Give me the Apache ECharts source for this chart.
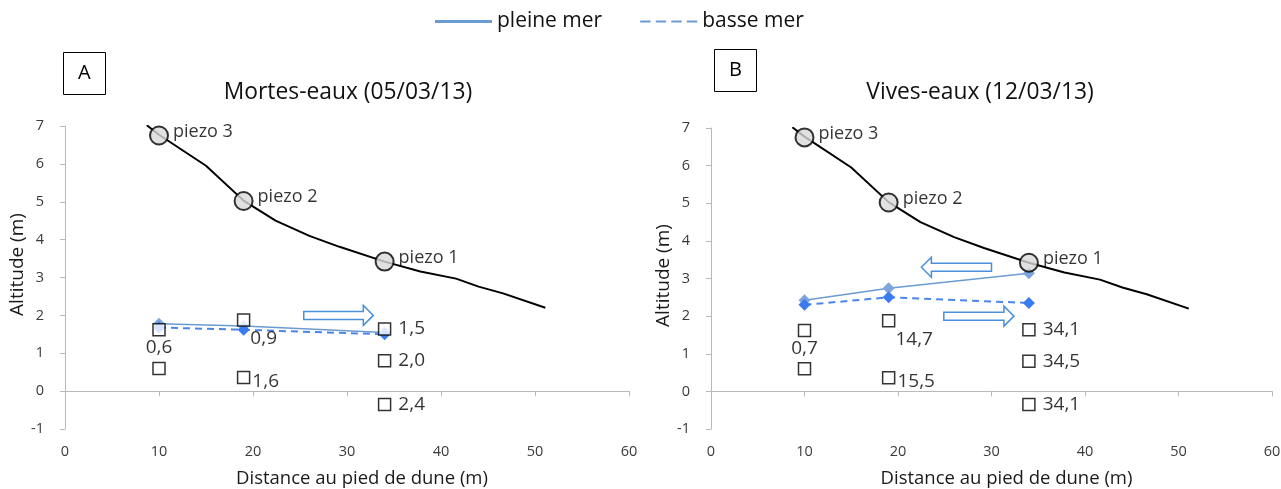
<!DOCTYPE html>
<html>
<head>
<meta charset="utf-8">
<script src="https://cdn.jsdelivr.net/npm/echarts@6/dist/echarts.min.js"></script>
<style>
html,body{margin:0;padding:0;background:#fff;}
#chart{width:1281px;height:489px;}
</style>
</head>
<body>
<div id="chart"></div>
<script>
// ---------- DATA ----------
const profile = [[8.7,7.02],[10,6.77],[15,5.95],[19,5.03],[22.4,4.5],[26,4.1],[29.2,3.81],[34,3.42],[37.8,3.16],[41.6,2.97],[44,2.76],[46.6,2.58],[51.1,2.2]];
const piezoX = [10, 19, 34];
const piezoY = [6.75, 5.02, 3.42];
const piezoNames = ['piezo 3', 'piezo 2', 'piezo 1'];

const tideX = [10, 19, 34];
const pleineA = [1.78, 1.72, 1.55];
const basseA  = [1.68, 1.62, 1.50];
const pleineB = [2.42, 2.74, 3.14];
const basseB  = [2.30, 2.50, 2.35];

const sensorX = [10, 10, 19, 19, 34, 34, 34];
const sensorY = [1.62, 0.60, 1.88, 0.36, 1.64, 0.80, -0.35];
const labelsA = ['0,6', '', '0,9', '1,6', '1,5', '2,0', '2,4'];
const labelsB = ['0,7', '', '14,7', '15,5', '34,1', '34,5', '34,1'];

// arrows: [x tail, x head, y]
const arrowsA = [[25.4, 32.8, 2.0]];
const arrowsB = [[30.0, 22.5, 3.3], [24.9, 32.4, 2.0]];

const panelTitles = ['Mortes-eaux (05/03/13)', 'Vives-eaux (12/03/13)'];
const panelLetters = ['A', 'B'];
const xName = 'Distance au pied de dune (m)';
const yName = 'Altitude (m)';
const seriesNames = ['pleine mer', 'basse mer'];

// ---------- STYLE ----------
const FONT = 'Open Sans';
const labelCfg = [
  {position: 'bottom', distance: 2},
  null,
  {position: 'right', distance: 0, offset: [0, 19]},
  {position: 'right', distance: 2, offset: [0, 4]},
  {position: 'right', distance: 7},
  {position: 'right', distance: 7},
  {position: 'right', distance: 7}
];
const yNameGap = [32, 31];
const yNamePad = [[0, 0, 0, 26], [0, 0, 0, 6]];

const chart = echarts.init(document.getElementById('chart'), null, {renderer: 'canvas'});

function axisX(gi) {
  return {
    type: 'value', gridIndex: gi, min: 0, max: 60, interval: 10,
    splitLine: {show: false},
    axisLine: {lineStyle: {color: '#b8b8b8', width: 1}},
    axisTick: {show: true, length: 5, lineStyle: {color: '#b8b8b8'}},
    axisLabel: {fontFamily: FONT, fontSize: 14.5, color: '#3a3a3a', margin: 15},
    name: xName, nameLocation: 'middle', nameGap: 40,
    nameTextStyle: {fontFamily: FONT, fontSize: 18.5, color: '#1a1a1a', padding: [0, 0, 0, 30]}
  };
}
function axisY(gi) {
  return {
    type: 'value', gridIndex: gi, min: -1, max: 7, interval: 1,
    splitLine: {show: false},
    axisLine: {show: true, lineStyle: {color: '#b8b8b8', width: 1}},
    axisTick: {show: true, length: 5, lineStyle: {color: '#b8b8b8'}},
    axisLabel: {fontFamily: FONT, fontSize: 14.5, color: '#3a3a3a', margin: 21},
    name: yName, nameLocation: 'middle', nameGap: yNameGap[gi],
    nameTextStyle: {fontFamily: FONT, fontSize: 19, color: '#1a1a1a', padding: yNamePad[gi]}
  };
}

function arrowRender(params, api) {
  const y = api.value(2);
  const p0 = api.coord([api.value(0), y]);
  const p1 = api.coord([api.value(1), y]);
  const dir = p1[0] > p0[0] ? 1 : -1;
  const hl = 10, sh = 4, hh = 10;
  const hx = p1[0] - dir * hl;
  const cy = p0[1];
  const pts = [
    [p0[0], cy - sh], [hx, cy - sh], [hx, cy - hh], [p1[0], cy],
    [hx, cy + hh], [hx, cy + sh], [p0[0], cy + sh]
  ];
  return {type: 'polygon', shape: {points: pts}, style: {fill: '#fff', stroke: '#4a8fdb', lineWidth: 1.5}};
}

function panelSeries(gi, pleine, basse, labels, arrows) {
  const s = [];
  s.push({
    type: 'line', xAxisIndex: gi, yAxisIndex: gi, data: profile, symbol: 'none',
    lineStyle: {color: '#000', width: 2}, z: 2, silent: true
  });
  s.push({
    name: seriesNames[0], type: 'line', xAxisIndex: gi, yAxisIndex: gi,
    data: tideX.map((x, i) => [x, pleine[i]]),
    symbol: 'diamond', symbolSize: 12, showSymbol: true,
    itemStyle: {color: '#7ea6dc'}, lineStyle: {color: '#6a9bd1', width: 1.5}, z: 3
  });
  s.push({
    name: seriesNames[1], type: 'line', xAxisIndex: gi, yAxisIndex: gi,
    data: tideX.map((x, i) => [x, basse[i]]),
    symbol: 'diamond', symbolSize: 12, showSymbol: true,
    itemStyle: {color: '#3a7bef'}, lineStyle: {color: '#4a85e8', width: 2, type: [7, 5]}, z: 3
  });
  s.push({
    type: 'scatter', xAxisIndex: gi, yAxisIndex: gi,
    data: sensorX.map((x, i) => {
      const d = {value: [x, sensorY[i]]};
      if (labels[i]) {
        d.label = Object.assign({show: true, formatter: labels[i], color: '#000', fontFamily: FONT, fontSize: 19}, labelCfg[i]);
      }
      return d;
    }),
    symbol: 'rect', symbolSize: 12,
    itemStyle: {color: '#fff', borderColor: '#000', borderWidth: 1.5},
    label: {show: false, fontFamily: FONT, fontSize: 19, color: '#000'},
    z: 5
  });
  s.push({
    type: 'scatter', xAxisIndex: gi, yAxisIndex: gi,
    data: piezoX.map((x, i) => ({value: [x, piezoY[i]], name: piezoNames[i]})),
    symbol: 'circle', symbolSize: 18,
    itemStyle: {color: '#d9d9d9', borderColor: '#000', borderWidth: 2},
    label: {show: true, position: 'right', distance: 4, offset: [0, -4], formatter: '{b}', fontFamily: FONT, fontSize: 18, color: '#000'},
    z: 6
  });
  s.push({
    type: 'custom', xAxisIndex: gi, yAxisIndex: gi, data: arrows,
    encode: {x: [0, 1], y: 2}, renderItem: arrowRender, z: 7, silent: true
  });
  return s;
}

const option = {
  animation: false,
  backgroundColor: '#fff',
  textStyle: {fontFamily: FONT},
  title: [
    {text: panelLetters[0], left: 63, top: 52, padding: [11, 15], borderColor: '#000', borderWidth: 1,
     textStyle: {fontFamily: FONT, fontSize: 20, fontWeight: 'normal', color: '#000', lineHeight: 21}},
    {text: panelLetters[1], left: 714, top: 49, padding: [11, 15], borderColor: '#000', borderWidth: 1,
     textStyle: {fontFamily: FONT, fontSize: 20, fontWeight: 'normal', color: '#000', lineHeight: 21}},
    {text: panelTitles[0], left: 348, top: 81, padding: 0, textAlign: 'center',
     textStyle: {fontFamily: FONT, fontSize: 22.8, fontWeight: 'normal', color: '#111'}},
    {text: panelTitles[1], left: 980, top: 81, padding: 0, textAlign: 'center',
     textStyle: {fontFamily: FONT, fontSize: 22.8, fontWeight: 'normal', color: '#111'}}
  ],
  legend: {
    left: 435, top: 11, padding: 0, itemWidth: 57, itemHeight: 3, itemGap: 38,
    textStyle: {fontFamily: FONT, fontSize: 21, color: '#111'},
    data: [
      {name: seriesNames[0], icon: 'rect', itemStyle: {color: '#6a9bd1'}},
      {name: seriesNames[1], icon: 'path://M0 0H10V2H0Z M15 0H25V2H15Z M30 0H40V2H30Z M45 0H55V2H45Z', itemStyle: {color: '#6a9bd1'}}
    ]
  },
  grid: [
    {left: 65, top: 126, width: 564, height: 303, containLabel: false, outerBoundsMode: 'none'},
    {left: 711, top: 128, width: 561, height: 301, containLabel: false, outerBoundsMode: 'none'}
  ],
  xAxis: [axisX(0), axisX(1)],
  yAxis: [axisY(0), axisY(1)],
  series: [].concat(
    panelSeries(0, pleineA, basseA, labelsA, arrowsA),
    panelSeries(1, pleineB, basseB, labelsB, arrowsB)
  )
};
chart.setOption(option);
</script>
</body>
</html>
